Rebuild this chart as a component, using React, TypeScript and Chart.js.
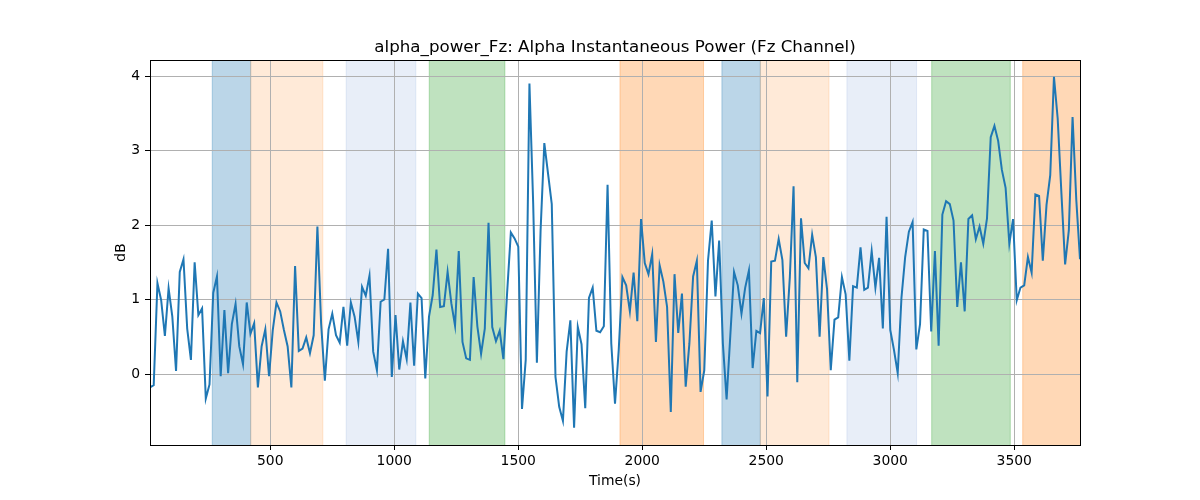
import React, { useEffect, useRef } from "react";
import { Chart, registerables } from "chart.js";

Chart.register(...registerables);

// ---- data ----
const TIME_S = [
  15, 30, 45, 60, 75, 90, 105, 120, 135, 150,
  165, 180, 195, 210, 225, 240, 255, 270, 285, 300,
  315, 330, 345, 360, 375, 390, 405, 420, 435, 450,
  465, 480, 495, 510, 525, 540, 555, 570, 585, 600,
  615, 630, 645, 660, 675, 690, 705, 720, 735, 750,
  765, 780, 795, 810, 825, 840, 855, 870, 885, 900,
  915, 930, 945, 960, 975, 990, 1005, 1020, 1035, 1050,
  1065, 1080, 1095, 1110, 1125, 1140, 1155, 1170, 1185, 1200,
  1215, 1230, 1245, 1260, 1275, 1290, 1305, 1320, 1335, 1350,
  1365, 1380, 1395, 1410, 1425, 1440, 1455, 1470, 1485, 1500,
  1515, 1530, 1545, 1560, 1575, 1590, 1605, 1620, 1635, 1650,
  1665, 1680, 1695, 1710, 1725, 1740, 1755, 1770, 1785, 1800,
  1815, 1830, 1845, 1860, 1875, 1890, 1905, 1920, 1935, 1950,
  1965, 1980, 1995, 2010, 2025, 2040, 2055, 2070, 2085, 2100,
  2115, 2130, 2145, 2160, 2175, 2190, 2205, 2220, 2235, 2250,
  2265, 2280, 2295, 2310, 2325, 2340, 2355, 2370, 2385, 2400,
  2415, 2430, 2445, 2460, 2475, 2490, 2505, 2520, 2535, 2550,
  2565, 2580, 2595, 2610, 2625, 2640, 2655, 2670, 2685, 2700,
  2715, 2730, 2745, 2760, 2775, 2790, 2805, 2820, 2835, 2850,
  2865, 2880, 2895, 2910, 2925, 2940, 2955, 2970, 2985, 3000,
  3015, 3030, 3045, 3060, 3075, 3090, 3105, 3120, 3135, 3150,
  3165, 3180, 3195, 3210, 3225, 3240, 3255, 3270, 3285, 3300,
  3315, 3330, 3345, 3360, 3375, 3390, 3405, 3420, 3435, 3450,
  3465, 3480, 3495, 3510, 3525, 3540, 3555, 3570, 3585, 3600,
  3615, 3630, 3645, 3660, 3675, 3690, 3705, 3720, 3735, 3750,
  3765,
];

const ALPHA_DB = [
  -0.18, -0.15, 1.22, 0.99, 0.51, 1.15, 0.77, 0.04, 1.37, 1.54,
  0.61, 0.19, 1.5, 0.79, 0.88, -0.33, -0.14, 1.09, 1.31, -0.03,
  0.86, 0.01, 0.67, 0.94, 0.37, 0.13, 0.96, 0.54, 0.68, -0.18,
  0.37, 0.6, -0.03, 0.59, 0.96, 0.84, 0.59, 0.37, -0.18, 1.45,
  0.31, 0.34, 0.49, 0.28, 0.52, 1.98, 0.68, -0.09, 0.6, 0.81,
  0.52, 0.42, 0.9, 0.38, 0.96, 0.77, 0.43, 1.17, 1.05, 1.32,
  0.3, 0.05, 0.97, 1.0, 1.68, -0.04, 0.79, 0.06, 0.44, 0.2,
  0.96, 0.11, 1.08, 1.02, -0.06, 0.77, 1.06, 1.67, 0.9, 0.91,
  1.37, 0.95, 0.65, 1.65, 0.43, 0.21, 0.19, 1.3, 0.64, 0.27,
  0.61, 2.03, 0.63, 0.44, 0.58, 0.2, 1.09, 1.9, 1.82, 1.71,
  -0.47, 0.19, 3.9, 2.3, 0.15, 1.93, 3.1, 2.69, 2.28, -0.04,
  -0.44, -0.63, 0.3, 0.72, -0.72, 0.63, 0.4, -0.46, 1.02, 1.16,
  0.58, 0.56, 0.64, 2.54, 0.41, -0.4, 0.32, 1.3, 1.19, 0.84,
  1.36, 0.71, 2.08, 1.49, 1.34, 1.61, 0.43, 1.46, 1.24, 0.9,
  -0.51, 1.34, 0.55, 1.08, -0.17, 0.41, 1.31, 1.52, -0.24, 0.05,
  1.52, 2.06, 1.04, 1.79, 0.41, -0.34, 0.52, 1.37, 1.19, 0.81,
  1.16, 1.39, 0.08, 0.58, 0.55, 1.02, -0.3, 1.51, 1.52, 1.81,
  1.53, 0.5, 1.3, 2.52, -0.11, 2.09, 1.49, 1.42, 1.87, 1.57,
  0.5, 1.57, 1.14, 0.05, 0.73, 0.76, 1.3, 1.07, 0.18, 1.18,
  1.16, 1.7, 1.13, 1.16, 1.65, 1.16, 1.56, 0.61, 2.11, 0.59,
  0.32, 0.01, 1.02, 1.57, 1.91, 2.04, 0.33, 0.67, 1.94, 1.92,
  0.57, 1.65, 0.38, 2.14, 2.32, 2.28, 2.06, 0.9, 1.5, 0.84,
  2.08, 2.13, 1.81, 1.98, 1.75, 2.09, 3.18, 3.33, 3.13, 2.74,
  2.5, 1.75, 2.08, 0.99, 1.16, 1.19, 1.57, 1.36, 2.41, 2.39,
  1.52, 2.27, 2.67, 3.99, 3.43, 2.43, 1.47, 1.93, 3.45, 2.34,
  1.54,
];

// shaded intervals (seconds) and their kind
const SPAN_START = [266, 421, 806, 1141, 1910, 2321, 2476, 2825, 3167, 3534];
const SPAN_END = [421, 712, 1087, 1446, 2247, 2476, 2753, 3106, 3484, 3800];
const SPAN_KIND = ["A", "B", "C", "D", "E", "A", "B", "C", "D", "E"];

const X_TICKS = [500, 1000, 1500, 2000, 2500, 3000, 3500];
const Y_TICKS = [0, 1, 2, 3, 4];

const TITLE = "alpha_power_Fz: Alpha Instantaneous Power (Fz Channel)";
const X_LABEL = "Time(s)";
const Y_LABEL = "dB";

// ---- styles ----
const SPAN_COLORS: Record<string, string> = {
  A: "rgba(31,119,180,0.3)",
  B: "rgba(255,127,14,0.16)",
  C: "rgba(100,140,210,0.15)",
  D: "rgba(44,160,44,0.3)",
  E: "rgba(255,127,14,0.3)",
};
const FONT = "'DejaVu Sans', Verdana, sans-serif";

const decorPlugin = {
  id: "decor",
  beforeDraw(chart: any) {
    const { ctx, chartArea: a, scales } = chart;
    const xs = scales.x;
    ctx.save();
    ctx.fillStyle = "#ffffff";
    ctx.fillRect(0, 0, chart.width, chart.height);
    ctx.beginPath();
    ctx.rect(a.left, a.top, a.right - a.left, a.bottom - a.top);
    ctx.clip();
    for (let i = 0; i < SPAN_START.length; i++) {
      const x1 = xs.getPixelForValue(SPAN_START[i]);
      const x2 = xs.getPixelForValue(SPAN_END[i]);
      const c = SPAN_COLORS[SPAN_KIND[i]];
      ctx.fillStyle = c;
      ctx.fillRect(x1, a.top, x2 - x1, a.bottom - a.top);
      ctx.strokeStyle = c;
      ctx.lineWidth = 1;
      ctx.beginPath();
      ctx.moveTo(x1, a.top);
      ctx.lineTo(x1, a.bottom);
      ctx.moveTo(x2, a.top);
      ctx.lineTo(x2, a.bottom);
      ctx.stroke();
    }
    ctx.restore();
  },
  afterDraw(chart: any) {
    const { ctx, chartArea: a } = chart;
    ctx.save();
    ctx.strokeStyle = "#000000";
    ctx.lineWidth = 1;
    ctx.strokeRect(Math.round(a.left) + 0.5, Math.round(a.top) + 0.5, Math.round(a.right - a.left), Math.round(a.bottom - a.top));
    ctx.fillStyle = "#000000";
    ctx.textAlign = "center";
    ctx.textBaseline = "alphabetic";
    ctx.font = `16.7px ${FONT}`;
    ctx.fillText(TITLE, (a.left + a.right) / 2, 52);
    ctx.font = `13.9px ${FONT}`;
    ctx.fillText(X_LABEL, (a.left + a.right) / 2, 485);
    ctx.translate(125, (a.top + a.bottom) / 2);
    ctx.rotate(-Math.PI / 2);
    ctx.fillText(Y_LABEL, 0, 0);
    ctx.restore();
  },
};

export default function App() {
  const ref = useRef<HTMLCanvasElement | null>(null);

  useEffect(() => {
    if (!ref.current) return;
    const points = TIME_S.map((t, i) => ({ x: t, y: ALPHA_DB[i] }));
    const chart = new Chart(ref.current, {
      type: "line",
      data: {
        datasets: [
          {
            data: points,
            borderColor: "#1f77b4",
            borderWidth: 2,
            pointRadius: 0,
            tension: 0,
            fill: false,
          },
        ],
      },
      options: {
        animation: false,
        responsive: false,
        devicePixelRatio: 1,
        layout: { padding: { left: 0, right: 120, top: 60, bottom: 0 } },
        plugins: {
          legend: { display: false },
          title: { display: false },
          tooltip: { enabled: false },
        },
        scales: {
          x: {
            type: "linear",
            min: 15,
            max: 3765,
            afterBuildTicks: (s: any) => {
              s.ticks = X_TICKS.map((v) => ({ value: v }));
            },
            afterFit: (s: any) => {
              s.height = 55;
            },
            grid: {
              color: "#b0b0b0",
              lineWidth: 1,
              tickColor: "#000000",
              tickLength: 5,
              drawTicks: true,
            },
            border: { display: false },
            ticks: {
              color: "#000000",
              font: { family: FONT, size: 13.9 },
              padding: 3,
              maxRotation: 0,
              autoSkip: false,
              callback: (v: any) => String(v),
            },
          },
          y: {
            type: "linear",
            min: -0.953,
            max: 4.215,
            afterBuildTicks: (s: any) => {
              s.ticks = Y_TICKS.map((v) => ({ value: v }));
            },
            afterFit: (s: any) => {
              s.width = 150;
            },
            grid: {
              color: "#b0b0b0",
              lineWidth: 1,
              tickColor: "#000000",
              tickLength: 5,
              drawTicks: true,
            },
            border: { display: false },
            ticks: {
              color: "#000000",
              font: { family: FONT, size: 13.9 },
              padding: 5,
              autoSkip: false,
              callback: (v: any) => String(v),
            },
          },
        },
      },
      plugins: [decorPlugin],
    });
    return () => chart.destroy();
  }, []);

  return (
    <div style={{ position: "absolute", left: 0, top: 0, width: 1200, height: 500, background: "#fff" }}>
      <canvas ref={ref} width={1200} height={500} style={{ width: 1200, height: 500, display: "block" }} />
    </div>
  );
}
